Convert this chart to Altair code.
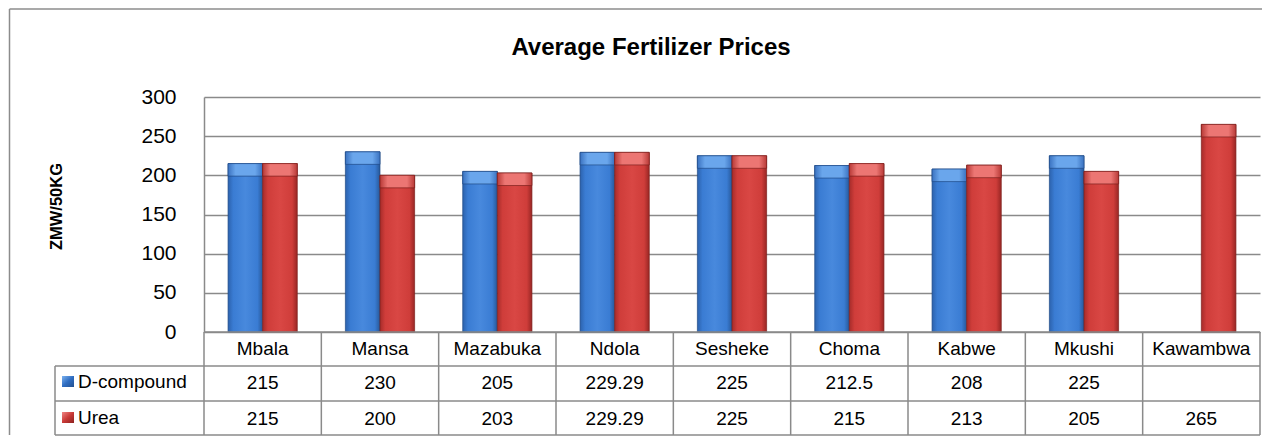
import altair as alt
import pandas as pd

# ---- data ----
categories = ["Mbala", "Mansa", "Mazabuka", "Ndola", "Sesheke", "Choma", "Kabwe", "Mkushi", "Kawambwa"]
d_compound = [215, 230, 205, 229.29, 225, 212.5, 208, 225, None]
urea = [215, 200, 203, 229.29, 225, 215, 213, 205, 265]
d_labels = ["215", "230", "205", "229.29", "225", "212.5", "208", "225", ""]
u_labels = ["215", "200", "203", "229.29", "225", "215", "213", "205", "265"]
series_names = ["D-compound", "Urea"]
y_ticks = [0, 50, 100, 150, 200, 250, 300]
chart_title = "Average Fertilizer Prices"
y_title = "ZMW/50KG"

# ---- layout (pixels, relative to plot area) ----
W, H = 1056, 235
HALF_STEP = W / len(categories) / 2
TAB_LEFT = -149
ROW_EDGES = [235, 269, 304, 338]
GRID = "#8a8a8a"
FONT = "Liberation Sans"

rows = []
for c, d, u in zip(categories, d_compound, urea):
    if d is not None:
        rows.append({"cat": c, "series": "D-compound", "value": d})
    rows.append({"cat": c, "series": "Urea", "value": u})
bars_df = pd.DataFrame(rows)
cat_df = pd.DataFrame({"cat": categories, "dlab": d_labels, "ulab": u_labels})
one = pd.DataFrame({"k": [0]})

xscale = alt.Scale(domain=categories, paddingInner=0.41, paddingOuter=0.205)
xenc = alt.X("cat:N", scale=xscale, axis=None)
xoff = alt.XOffset("series:N", scale=alt.Scale(domain=series_names, paddingInner=0, paddingOuter=0))
yscale = alt.Scale(domain=[0, 300], nice=False, zero=True)
yaxis = alt.Axis(values=y_ticks, tickCount=7, grid=True, gridColor=GRID, gridWidth=1.5, domain=True,
                 domainColor=GRID, domainWidth=1.5, ticks=False, labelFont=FONT,
                 labelFontSize=21, labelColor="black", labelPadding=28, labelOverlap=False,
                 title=y_title, titleFont=FONT, titleFontSize=16.5, titleFontWeight="bold",
                 titleColor="black", titleX=-148, titleY=109, titleAngle=-90,
                 titleAlign="center", titleBaseline="middle")


def hgrad(stops):
    return alt.LinearGradient(gradient="linear", x1=0, x2=1, y1=0, y2=0,
                              stops=[alt.GradientStop(color=c, offset=o) for o, c in stops])


blue_main = hgrad([(0, "#2c62ad"), (0.15, "#3a7cd3"), (0.5, "#4889dd"), (0.85, "#3a7cd3"), (1, "#275899")])
blue_top = hgrad([(0, "#3a72c0"), (0.22, "#6aa6ec"), (0.78, "#6aa6ec"), (1, "#3a72c0")])
red_main = hgrad([(0, "#a62c2a"), (0.15, "#cf3d3a"), (0.5, "#d94744"), (0.85, "#cf3d3a"), (1, "#982624")])
red_top = hgrad([(0, "#b83a37"), (0.22, "#ec7673"), (0.78, "#ec7673"), (1, "#b83a37")])

base = alt.Chart(bars_df)


def bar_layers(name, main, top, edge):
    b = base.transform_filter(alt.datum.series == name).mark_bar(
        color=main, stroke=edge, strokeWidth=0.7).encode(
        x=xenc, xOffset=xoff, y=alt.Y("value:Q", scale=yscale, axis=yaxis))
    t = base.transform_filter(alt.datum.series == name).transform_calculate(
        low="datum.value - 16").mark_bar(color=top, stroke=edge, strokeWidth=0.7).encode(
        x=xenc, xOffset=xoff, y=alt.Y("value:Q", scale=yscale, axis=yaxis), y2="low:Q")
    return [b, t]


layers = []
layers += bar_layers("D-compound", blue_main, blue_top, "#1f4a86")
layers += bar_layers("Urea", red_main, red_top, "#7e1f1d")

rule_kw = dict(color=GRID, strokeWidth=1.5)
# table vertical lines at category boundaries
layers.append(alt.Chart(cat_df).mark_rule(xOffset=-HALF_STEP, **rule_kw).encode(
    x=xenc, y=alt.value(ROW_EDGES[0]), y2=alt.value(ROW_EDGES[-1])))
layers.append(alt.Chart(cat_df.tail(1)).mark_rule(xOffset=HALF_STEP, **rule_kw).encode(
    x=xenc, y=alt.value(ROW_EDGES[0]), y2=alt.value(ROW_EDGES[-1])))
# legend column left edge
layers.append(alt.Chart(one).mark_rule(**rule_kw).encode(
    x=alt.value(TAB_LEFT), y=alt.value(ROW_EDGES[1]), y2=alt.value(ROW_EDGES[-1])))
# horizontal table lines
layers.append(alt.Chart(one).mark_rule(**rule_kw).encode(
    x=alt.value(0), x2=alt.value(W), y=alt.value(ROW_EDGES[0])))
for yy in ROW_EDGES[1:]:
    layers.append(alt.Chart(one).mark_rule(**rule_kw).encode(
        x=alt.value(TAB_LEFT), x2=alt.value(W), y=alt.value(yy)))

# table texts
txt_kw = dict(font=FONT, fontSize=19, color="black", baseline="middle")
layers.append(alt.Chart(cat_df).mark_text(**txt_kw).encode(x=xenc, y=alt.value(252), text="cat:N"))
layers.append(alt.Chart(cat_df).mark_text(**txt_kw).encode(x=xenc, y=alt.value(286), text="dlab:N"))
layers.append(alt.Chart(cat_df).mark_text(**txt_kw).encode(x=xenc, y=alt.value(321.5), text="ulab:N"))

# legend keys in table
leg_df = pd.DataFrame({"series": series_names})
icon_blue = alt.LinearGradient(gradient="linear", x1=0, x2=1, y1=0, y2=1,
                               stops=[alt.GradientStop(color="#7db3f0", offset=0),
                                      alt.GradientStop(color="#2f6dc2", offset=0.5),
                                      alt.GradientStop(color="#23508f", offset=1)])
icon_red = alt.LinearGradient(gradient="linear", x1=0, x2=1, y1=0, y2=1,
                              stops=[alt.GradientStop(color="#f08684", offset=0),
                                     alt.GradientStop(color="#c93a37", offset=0.5),
                                     alt.GradientStop(color="#8c2220", offset=1)])
layers.append(alt.Chart(one).mark_rect(color=icon_blue).encode(
    x=alt.value(-142), x2=alt.value(-130), y=alt.value(279), y2=alt.value(290)))
layers.append(alt.Chart(one).mark_rect(color=icon_red).encode(
    x=alt.value(-142), x2=alt.value(-130), y=alt.value(315), y2=alt.value(326)))
layers.append(alt.Chart(leg_df).transform_filter(alt.datum.series == series_names[0]).mark_text(
    align="left", **txt_kw).encode(x=alt.value(-126), y=alt.value(285), text="series:N"))
layers.append(alt.Chart(leg_df).transform_filter(alt.datum.series == series_names[1]).mark_text(
    align="left", **txt_kw).encode(x=alt.value(-126), y=alt.value(321), text="series:N"))

# chart title
layers.append(alt.Chart(pd.DataFrame({"t": [chart_title]})).mark_text(
    font=FONT, fontSize=24, fontWeight="bold", color="black", baseline="alphabetic").encode(
    x=alt.value(447), y=alt.value(-42), text="t:N"))

# outer chart border (left and top)
border_kw = dict(color="#8c8c8c", strokeWidth=1.5)
layers.append(alt.Chart(one).mark_rule(**border_kw).encode(
    x=alt.value(-194.5), y=alt.value(-88), y2=alt.value(ROW_EDGES[-1])))
layers.append(alt.Chart(one).mark_rule(**border_kw).encode(
    x=alt.value(-194.5), x2=alt.value(1058), y=alt.value(-88)))

chart = alt.layer(*layers).properties(width=W, height=H, padding=0,
                                      background="white").configure_view(stroke=None)

chart.save("out.html", embed_options={"renderer": "svg", "actions": False})
